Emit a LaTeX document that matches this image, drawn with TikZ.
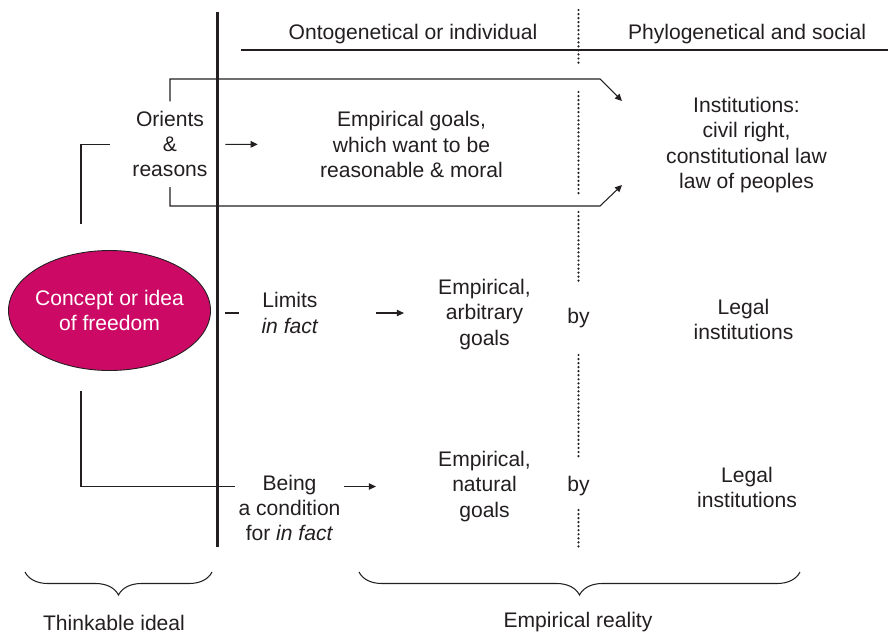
\documentclass[tikz,border=0pt]{standalone}
\usepackage{fontspec}
\setmainfont{Liberation Sans}
\usepackage{xcolor}
\usepackage{tikz}
\usetikzlibrary{shapes.geometric, arrows.meta, positioning, calc, decorations.pathreplacing}

\definecolor{ink}{HTML}{231F20}
\definecolor{ideared}{RGB}{204,10,102}

\begin{document}
\begin{tikzpicture}[
    txt/.style={align=center, text=ink, inner sep=2pt,
        font=\fontsize{12}{14.3}\selectfont},
    idea/.style={ellipse, draw=ink, line width=0.5pt, fill=ideared,
        minimum width=4.04cm, minimum height=2.4cm, inner sep=0pt},
    arrow/.style={-{Triangle[length=1.4mm, width=1.3mm]}, line width=0.6pt, draw=ink},
    link/.style={line width=0.6pt, draw=ink},
    divider/.style={line width=2.2pt, draw=ink},
    dots/.style={line width=1.4pt, draw=ink, line cap=round, dash pattern=on 0pt off 2.3pt},
    brace/.style={decorate, decoration={brace, mirror, amplitude=0.46cm},
        line width=0.6pt, draw=ink}
]
    \useasboundingbox (0,0) rectangle (17.76,-12.64);

    % column heads
    \node[txt] (onto)  at (8.26,-0.68)  {Ontogenetical or individual};
    \node[txt] (phylo) at (14.94,-0.68) {Phylogenetical and social};
    \draw[link] (4.82,-1.00) -- (17.76,-1.00);

    % thick and dotted dividers
    \draw[divider] (4.35,-0.24) -- (4.35,-10.94);
    \foreach \ya/\yb in {-0.20/-1.30, -1.84/-3.94, -4.24/-5.66, -7.10/-9.20, -10.20/-10.94}
        \draw[dots] (11.57,\ya) -- (11.57,\yb);

    % the idea
    \node[idea, label={[txt, text=white]center:{Concept or idea\\of freedom}}] (freedom) at (2.19,-6.21) {};

    % top row
    \node[txt, minimum width=2.4cm, inner ysep=5.5pt] (orients) at (3.40,-2.886) {Orients\\\&\\reasons};
    \node[txt] (moral)  at (8.23,-2.89)  {Empirical goals,\\which want to be\\reasonable \& moral};
    \node[txt] (instit) at (14.93,-2.90) {Institutions:\\civil right,\\constitutional law\\law of peoples};

    % middle row
    \node[txt] (limits)    at (5.80,-6.26)  {Limits\\\textit{in fact}};
    \node[txt] (arbitrary) at (9.69,-6.29)  {Empirical,\\arbitrary\\goals};
    \node[txt] (by1)       at (11.57,-6.37) {by};
    \node[txt] (legal1)    at (14.87,-6.39) {Legal\\institutions};

    % bottom row
    \node[txt] (being)   at (5.79,-10.16) {Being\\a condition\\for \textit{in fact}};
    \node[txt] (natural) at (9.69,-9.73)  {Empirical,\\natural\\goals};
    \node[txt] (by2)     at (11.57,-9.73) {by};
    \node[txt] (legal2)  at (14.94,-9.75) {Legal\\institutions};

    \coordinate (tipUp)    at (12.44,-2.02);
    \coordinate (tipDown)  at (12.44,-3.70);
    \coordinate (stemUp)   at (1.62,-4.48);
    \coordinate (stemDown) at (1.62,-7.82);

    \draw[arrow] (orients.north) |- ([xshift=-0.44cm, yshift=0.44cm]tipUp) -- (tipUp);
    \draw[arrow] (orients.south) |- ([xshift=-0.44cm, yshift=-0.42cm]tipDown) -- (tipDown);
    \draw[link] (stemUp) |- (orients.west);
    \draw[arrow, shorten <=-0.1cm, shorten >=1.17cm] (orients.east) -- (moral.west);

    \draw[link, shorten <=0.28cm, shorten >=0.37cm] (freedom.east |- limits.west) -- (limits.west);
    \draw[arrow, shorten <=1.07cm, shorten >=0.61cm] (limits.east) -- (limits.east -| arbitrary.west);

    \draw[link] (stemDown) |- (being.west |- natural.west);
    \draw[arrow, shorten >=1.17cm] (being.east |- natural.west) -- (natural.west);

    % braces underneath
    \coordinate (ideaL) at (0.50,-11.44);
    \coordinate (ideaR) at (4.24,-11.44);
    \coordinate (realL) at (7.18,-11.44);
    \coordinate (realR) at (16.00,-11.44);
    \draw[brace] (ideaL) -- (ideaR);
    \draw[brace] (realL) -- (realR);
    \node[txt] (thinkable) at (2.28,-12.45)  {Thinkable ideal};
    \node[txt] (reality)   at (11.56,-12.45) {Empirical reality};
\end{tikzpicture}
\end{document}
